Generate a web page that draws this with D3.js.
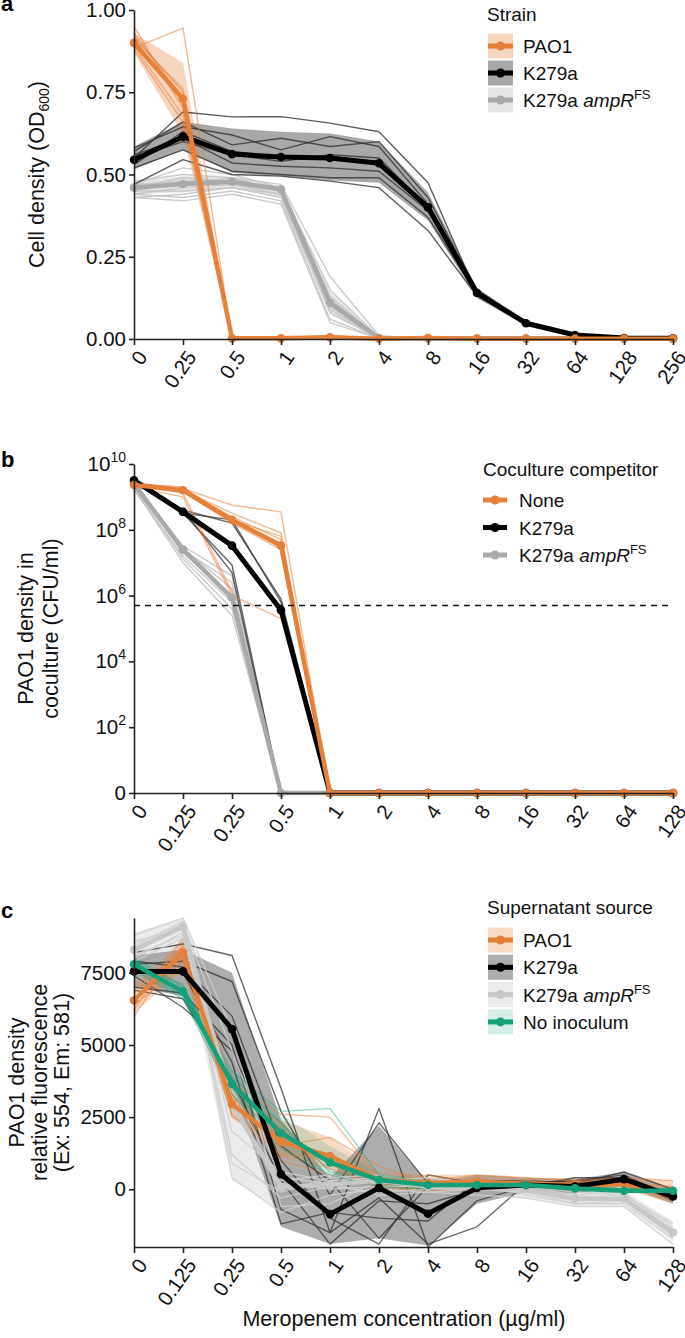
<!DOCTYPE html>
<html><head><meta charset="utf-8">
<script src="https://cdn.jsdelivr.net/npm/d3@7"></script>
<style>body{margin:0;background:#fff}svg{display:block}</style>
</head><body><svg id="chart" width="685" height="1338"></svg>
<script>
// ---------------- DATA ----------------
const concA  = ["0","0.25","0.5","1","2","4","8","16","32","64","128","256"];
const concBC = ["0","0.125","0.25","0.5","1","2","4","8","16","32","64","128"];
const ticksA = [0, 0.25, 0.5, 0.75, 1];
const tickLabelsA = ["0.00","0.25","0.50","0.75","1.00"];
const ticksB = [1, 1e2, 1e4, 1e6, 1e8, 1e10];
const tickExpB = [null, "2", "4", "6", "8", "10"];
const ticksC = [0, 2500, 5000, 7500];
const thresholdB = 5e5;

// Panel a: OD600
const pao1MeanA = [0.90,0.73,0.002,0.002,0.005,0.001,0.003,0.001,0.001,0.001,0.001,0.001];
const pao1LoA   = [0.87,0.62,0,0,0,0,0,0,0,0,0,0];
const pao1HiA   = [0.93,0.84,0.004,0.004,0.010,0.003,0.005,0.002,0.002,0.002,0.002,0.002];
const pao1RepsA = [
  [0.95,0.70,0,0,0.004,0,0.002,0,0,0,0,0],
  [0.885,0.945,0.004,0.002,0.006,0,0.003,0,0,0,0,0],
  [0.92,0.75,0,0.003,0.010,0.002,0.004,0,0,0,0,0],
  [0.90,0.72,0.002,0,0.005,0,0.002,0,0,0,0,0],
  [0.89,0.68,0,0.002,0.004,0.001,0.003,0,0,0,0,0],
  [0.91,0.76,0.003,0.001,0.008,0.002,0.004,0,0,0,0,0],
  [0.93,0.73,0,0.002,0.003,0,0.002,0,0,0,0,0],
  [0.88,0.66,0.001,0.001,0.002,0,0.001,0,0,0,0,0]
];
const k279MeanA = [0.545,0.615,0.562,0.553,0.550,0.534,0.40,0.14,0.048,0.012,0.003,0.002];
const k279LoA   = [0.515,0.575,0.505,0.495,0.482,0.475,0.36,0.125,0.040,0.006,0.001,0.001];
const k279HiA   = [0.585,0.66,0.64,0.63,0.625,0.60,0.445,0.155,0.056,0.018,0.005,0.003];
const k279RepsA = [
  [0.55,0.69,0.675,0.676,0.656,0.63,0.475,0.135,0.045,0.010,0.003,0.002],
  [0.57,0.66,0.59,0.61,0.585,0.60,0.43,0.145,0.050,0.015,0.004,0.002],
  [0.58,0.645,0.62,0.575,0.615,0.585,0.41,0.15,0.050,0.012,0.003,0.002],
  [0.53,0.63,0.57,0.555,0.55,0.54,0.40,0.14,0.048,0.013,0.003,0.002],
  [0.56,0.61,0.535,0.525,0.52,0.51,0.39,0.14,0.048,0.012,0.003,0.002],
  [0.52,0.575,0.51,0.50,0.49,0.49,0.37,0.135,0.045,0.010,0.003,0.002],
  [0.47,0.545,0.50,0.495,0.48,0.46,0.33,0.13,0.045,0.010,0.002,0.002],
  [0.55,0.60,0.56,0.54,0.56,0.55,0.40,0.14,0.048,0.012,0.003,0.002]
];
const amprMeanA = [0.46,0.471,0.478,0.455,0.11,0.003,0.002,0.002,0.002,0.002,0.002,0.002];
const amprLoA   = [0.44,0.445,0.46,0.43,0.075,0,0,0,0,0,0,0];
const amprHiA   = [0.48,0.495,0.49,0.465,0.145,0.006,0.004,0.004,0.004,0.004,0.004,0.004];
const amprRepsA = [
  [0.48,0.50,0.49,0.47,0.19,0.010,0.002,0.002,0.002,0.002,0.002,0.002],
  [0.47,0.52,0.50,0.46,0.15,0.005,0.002,0.002,0.002,0.002,0.002,0.002],
  [0.46,0.49,0.48,0.46,0.13,0.004,0.002,0.002,0.002,0.002,0.002,0.002],
  [0.45,0.48,0.48,0.45,0.12,0.003,0.002,0.002,0.002,0.002,0.002,0.002],
  [0.47,0.47,0.47,0.45,0.11,0.003,0.002,0.002,0.002,0.002,0.002,0.002],
  [0.44,0.46,0.47,0.44,0.10,0.002,0.002,0.002,0.002,0.002,0.002,0.002],
  [0.45,0.45,0.46,0.44,0.09,0.002,0.002,0.002,0.002,0.002,0.002,0.002],
  [0.43,0.44,0.46,0.43,0.08,0.002,0.002,0.002,0.002,0.002,0.002,0.002],
  [0.44,0.43,0.45,0.42,0.06,0.002,0.002,0.002,0.002,0.002,0.002,0.002],
  [0.43,0.42,0.44,0.41,0.05,0.002,0.002,0.002,0.002,0.002,0.002,0.002],
  [0.46,0.47,0.49,0.45,0.10,0.003,0.002,0.002,0.002,0.002,0.002,0.002],
  [0.47,0.48,0.48,0.46,0.12,0.004,0.002,0.002,0.002,0.002,0.002,0.002]
];

// Panel b: PAO1 CFU/ml in coculture (0 = below detection)
const noneMeanB = [2.3e9,1.6e9,2.0e8,3.3e7,0,0,0,0,0,0,0,0];
const noneRepsB = [
  [2.5e9,1.8e9,5.6e8,3.5e8,0,0,0,0,0,0,0,0],
  [2.2e9,1.6e9,2.5e8,5.0e7,0,0,0,0,0,0,0,0],
  [2.5e9,2.0e9,2.0e8,6.3e7,0,0,0,0,0,0,0,0],
  [2.0e9,1.4e9,1.6e8,2.5e7,0,0,0,0,0,0,0,0],
  [2.8e9,1.6e9,2.2e8,4.0e7,0,0,0,0,0,0,0,0],
  [2.0e9,1.0e9,1.0e6,2.0e5,0,0,0,0,0,0,0,0],
  [2.5e9,1.3e9,1.3e6,0,0,0,0,0,0,0,0,0],
  [2.2e9,1.6e9,3.2e8,8.0e7,0,0,0,0,0,0,0,0]
];
const k279MeanB = [3.2e9,3.5e8,3.3e7,3.6e5,0,0,0,0,0,0,0,0];
const k279RepsB = [
  [3.2e9,4.0e8,1.6e8,8.0e5,0,0,0,0,0,0,0,0],
  [3.0e9,3.2e8,2.0e8,6.3e5,0,0,0,0,0,0,0,0],
  [2.8e9,3.2e8,8.5e6,0,0,0,0,0,0,0,0,0],
  [3.2e9,4.0e8,5.0e6,0,0,0,0,0,0,0,0,0]
];
const amprMeanB = [2.5e9,2.5e7,8.5e5,0,0,0,0,0,0,0,0,0];
const amprRepsB = [
  [2.5e9,3.2e7,4.0e6,0,0,0,0,0,0,0,0,0],
  [2.0e9,2.5e7,2.5e6,0,0,0,0,0,0,0,0,0],
  [2.2e9,2.0e7,1.0e6,0,0,0,0,0,0,0,0,0],
  [1.6e9,1.6e7,6.3e5,0,0,0,0,0,0,0,0,0],
  [2.0e9,1.3e7,4.0e5,0,0,0,0,0,0,0,0,0],
  [2.5e9,2.5e7,8.0e5,0,0,0,0,0,0,0,0,0],
  [1.8e9,1.0e7,2.5e5,0,0,0,0,0,0,0,0,0],
  [2.2e9,2.8e7,1.6e6,0,0,0,0,0,0,0,0,0]
];

// Panel c: relative fluorescence
const pao1MeanC = [6550,8200,2950,1650,1150,320,220,250,200,150,200,-150];
const pao1LoC   = [6100,7600,2500,1100,700,0,-100,-50,0,-100,0,-500];
const pao1HiC   = [7000,8700,3500,2400,1800,600,500,500,400,400,400,300];
const pao1RepsC = [
  [6200,8700,3700,2600,2500,400,300,500,400,300,400,300],
  [6800,8400,3200,1500,1800,800,200,300,200,200,100,-200],
  [7100,8000,2900,1900,700,100,500,200,300,100,300,-300],
  [6400,7700,2600,1200,1100,200,-100,100,100,0,200,-400],
  [6000,8500,2500,1700,900,-100,100,400,0,300,200,100],
  [6600,7900,3300,1000,500,300,200,0,200,100,0,-200]
];
const k279MeanC = [7550,7550,5550,520,-860,50,-850,50,150,100,350,-250];
const k279LoC   = [7000,6700,3600,-1300,-1900,-1700,-1950,-500,-100,-150,100,-500];
const k279HiC   = [8100,8300,7500,2400,400,2200,200,500,400,350,600,0];
const k279RepsC = [
  [8200,8500,8100,3500,-1500,2800,-2000,-400,100,400,400,-300],
  [7800,7900,7200,2700,-200,2300,200,100,200,300,500,-300],
  [7400,6300,4800,1000,-1000,-1900,500,200,100,0,300,-200],
  [7000,6800,5000,-700,-1500,-300,-1900,-1300,200,100,400,-400],
  [7600,7500,4400,-1200,-800,-1000,-1100,300,300,200,600,0],
  [6900,6600,3800,300,-1900,-400,-500,0,100,100,200,-300],
  [7900,7700,6000,1500,300,-1700,100,200,200,300,400,-200]
];
const amprMeanC = [8300,9100,2950,70,170,300,100,50,0,-330,-330,-1500];
const amprLoC   = [7800,8300,300,-700,-300,-200,-200,-200,-300,-600,-600,-1800];
const amprHiC   = [8900,9400,5600,800,500,500,400,300,200,0,-50,-1100];
const amprRepsC = [
  [8800,9400,5500,-600,-500,300,400,200,-200,-500,-500,-1700],
  [8500,9200,4800,300,500,200,200,100,0,-200,-400,-1600],
  [8200,9100,1200,-300,100,-100,0,0,-100,-400,-300,-1400],
  [8000,8900,2000,600,300,400,300,200,100,-100,-200,-1200],
  [8400,9300,400,-800,-200,0,-100,-200,-300,-600,-600,-1900],
  [7900,8700,3500,200,0,100,100,0,0,-300,-200,-1300],
  [8600,9000,900,-100,400,500,200,100,100,-200,-100,-1500],
  [8100,8800,2800,400,200,-200,-100,0,-100,-500,-400,-1400]
];
const noInocMeanC = [7800,6850,3650,1950,930,320,150,150,150,30,-50,-50];
const noInocLoC   = [7500,6600,3200,1500,500,50,0,0,0,-100,-150,-150];
const noInocHiC   = [8100,7100,4100,2600,1500,550,300,300,300,150,50,50];
const noInocRepsC = [
  [8000,7000,4100,2700,2800,500,200,300,200,100,0,0],
  [7700,6700,3500,1600,1200,200,100,100,200,0,-100,-100],
  [7900,6900,3900,2300,600,400,300,200,100,50,0,0],
  [7600,6600,3300,1400,500,100,0,100,200,0,-100,-100],
  [7800,7100,3600,2000,1000,300,100,0,100,0,-50,-50]
];

// labels
const lblPAO1 = [{t:"PAO1"}];
const lblK279 = [{t:"K279a"}];
const lblAmpR = [{t:"K279a "},{t:"ampR",i:true},{t:"FS",size:13,dy:-8}];
const lblNone = [{t:"None"}];
const lblNoInoc = [{t:"No inoculum"}];

// ---------------- STYLE ----------------
const FONT = "'Liberation Sans', Arial, Helvetica, sans-serif";
const ORANGE = "#E4803A", BLACK = "#000000", GRAY = "#A9A9A9", GREEN = "#16A07A";
const X0 = 134, X1 = 673;
const svg = d3.select("#chart").attr("font-family", FONT);

function addParts(textSel, parts) {
  parts.forEach(p => {
    const t = textSel.append("tspan").text(p.t);
    if (p.i) t.attr("font-style", "italic");
    if (p.size) t.attr("font-size", p.size);
    if (p.dy) t.attr("dy", p.dy);
  });
}

function drawPanel(opt) {
  const g = svg.append("g");
  const x = d3.scalePoint().domain(opt.cats).range([X0, X1]);
  const y = opt.y;
  const yv = opt.log ? (v => y(Math.max(v, 1))) : (v => y(v));
  const line = d3.line().x((d, i) => x(opt.cats[i])).y(d => yv(d));
  const area = d3.area().x((d, i) => x(opt.cats[i])).y0(d => yv(d[0])).y1(d => yv(d[1]));
  const gb = g.append("g"), gr = g.append("g"), gm = g.append("g");
  opt.groups.forEach(s => {
    if (s.lo) {
      gb.append("path").datum(s.lo.map((v, i) => [v, s.hi[i]]))
        .attr("d", area).attr("fill", s.band).attr("fill-opacity", s.bandOp).attr("stroke", "none");
    }
    s.reps.forEach(r => {
      gr.append("path").datum(r).attr("d", line).attr("fill", "none")
        .attr("stroke", s.rep).attr("stroke-opacity", s.repOp).attr("stroke-width", s.repW || 1.4)
        .attr("stroke-linejoin", "round");
    });
  });
  (opt.meanOrder || opt.groups).forEach(s => {
    gm.append("path").datum(s.mean).attr("d", line).attr("fill", "none")
      .attr("stroke", s.color).attr("stroke-width", s.meanW || 4.5).attr("stroke-linejoin", "round");
    gm.selectAll(null).data(s.mean).enter().append("circle")
      .attr("cx", (d, i) => x(opt.cats[i])).attr("cy", d => yv(d)).attr("r", 4.3).attr("fill", s.color);
  });
  if (opt.extra) opt.extra(g, x, y);

  // axes
  const ax = g.append("g").attr("transform", `translate(${X0},0)`)
    .call(d3.axisLeft(y).tickValues(opt.ticks).tickSize(5).tickSizeOuter(0).tickPadding(3));
  ax.selectAll(".tick text").attr("font-size", 20.5).attr("font-family", FONT).attr("fill", "#111");
  if (opt.tickText) opt.tickText(ax);
  const bx = g.append("g").attr("transform", `translate(0,${opt.axisY})`)
    .call(d3.axisBottom(x).tickSize(6).tickSizeOuter(0));
  bx.selectAll(".tick text").attr("font-size", 20.5).attr("font-family", FONT).attr("fill", "#111")
    .attr("x", 0).attr("y", 0).attr("dy", "0.35em").attr("text-anchor", "end")
    .attr("transform", "translate(8,14) rotate(-55)");
  [ax, bx].forEach(a => {
    a.select(".domain").attr("stroke", "#222").attr("stroke-width", 1.6);
    a.selectAll(".tick line").attr("stroke", "#222").attr("stroke-width", 1.6);
  });
  // y-axis title
  const yMid = (y.range()[0] + y.range()[1]) / 2;
  opt.yTitle.forEach((ln, k) => {
    const t = g.append("text").attr("transform", `translate(${opt.yTitleX[k]},${yMid}) rotate(-90)`)
      .attr("text-anchor", "middle").attr("font-size", 21.5).attr("fill", "#111");
    addParts(t, ln);
  });
  // panel letter
  g.append("text").attr("x", 1).attr("y", opt.letterY).attr("font-weight", "bold")
    .attr("font-size", 22).attr("fill", "#000").text(opt.letter);
  // legend
  const L = opt.legend;
  g.append("text").attr("x", L.x).attr("y", L.titleY).attr("font-size", 19).attr("fill", "#111").text(L.title);
  L.items.forEach((it, k) => {
    const cy = L.y0 + k * L.dy;
    if (L.rects) {
      g.append("rect").attr("x", L.x + 1).attr("y", cy - 12.5).attr("width", 25).attr("height", 25)
        .attr("fill", it.s.band).attr("fill-opacity", it.s.bandOp);
    }
    const kx0 = L.rects ? L.x + 1 : L.x, kx1 = L.rects ? L.x + 26 : L.x + 24;
    g.append("line").attr("x1", kx0).attr("x2", kx1).attr("y1", cy).attr("y2", cy)
      .attr("stroke", it.s.color).attr("stroke-width", 5);
    g.append("circle").attr("cx", (kx0 + kx1) / 2).attr("cy", cy).attr("r", 4.5).attr("fill", it.s.color);
    const t = g.append("text").attr("x", L.textX).attr("y", cy + 7).attr("font-size", 19).attr("fill", "#111");
    addParts(t, it.label);
  });
}

// ---------------- PANEL A ----------------
const sPAO1a = {color: ORANGE, band: ORANGE, bandOp: 0.33, rep: ORANGE, repOp: 0.55, mean: pao1MeanA, lo: pao1LoA, hi: pao1HiA, reps: pao1RepsA, meanW: 4.5};
const sK279a = {color: BLACK, band: "#4a4a4a", bandOp: 0.48, rep: "#333", repOp: 0.8, mean: k279MeanA, lo: k279LoA, hi: k279HiA, reps: k279RepsA, meanW: 5};
const sAmpRa = {color: GRAY, band: "#8a8a8a", bandOp: 0.22, rep: "#c4c4c4", repOp: 0.9, mean: amprMeanA, lo: amprLoA, hi: amprHiA, reps: amprRepsA, meanW: 4.5};
drawPanel({
  cats: concA, y: d3.scaleLinear().domain([0, 1]).range([339, 10]), axisY: 339,
  ticks: ticksA,
  tickText: ax => ax.selectAll(".tick text").text((d, i) => tickLabelsA[i]),
  groups: [sAmpRa, sK279a, sPAO1a],
  yTitle: [[{t:"Cell density (OD"},{t:"600",size:14,dy:5},{t:")",dy:-5}]], yTitleX: [44],
  letter: "a", letterY: 11,
  legend: {x: 487, titleY: 21, title: "Strain", rects: true, y0: 46, dy: 27, textX: 523,
    items: [{s: sPAO1a, label: lblPAO1}, {s: sK279a, label: lblK279}, {s: sAmpRa, label: lblAmpR}]}
});

// ---------------- PANEL B ----------------
const sNoneB = {color: ORANGE, rep: ORANGE, repOp: 0.55, mean: noneMeanB, reps: noneRepsB, meanW: 4.5};
const sK279B = {color: BLACK, rep: "#333", repOp: 0.75, mean: k279MeanB, reps: k279RepsB, meanW: 5};
const sAmpRB = {color: GRAY, rep: "#c4c4c4", repOp: 0.9, mean: amprMeanB, reps: amprRepsB, meanW: 4.5};
drawPanel({
  cats: concBC, y: d3.scaleLog().domain([1, 1e10]).range([793, 464]), log: true, axisY: 793,
  ticks: ticksB,
  tickText: ax => {
    ax.selectAll(".tick text").each(function(d, i) {
      const t = d3.select(this).text(null);
      if (tickExpB[i] === null) { t.append("tspan").text("0"); }
      else {
        t.append("tspan").text("10");
        t.append("tspan").attr("font-size", 14).attr("dy", -9).text(tickExpB[i]);
      }
    });
  },
  groups: [sAmpRB, sK279B, sNoneB],
  extra: (g, x, y) => {
    g.append("line").attr("x1", X0).attr("x2", X1).attr("y1", y(thresholdB)).attr("y2", y(thresholdB))
      .attr("stroke", "#111").attr("stroke-width", 1.6).attr("stroke-dasharray", "6,5");
  },
  yTitle: [[{t:"PAO1 density in"}], [{t:"coculture (CFU/ml)"}]], yTitleX: [33, 58],
  letter: "b", letterY: 467,
  legend: {x: 483, titleY: 476, title: "Coculture competitor", rects: false, y0: 500, dy: 27.5, textX: 519,
    items: [{s: sNoneB, label: lblNone}, {s: sK279B, label: lblK279}, {s: sAmpRB, label: lblAmpR}]}
});

// ---------------- PANEL C ----------------
const sPAO1c = {color: ORANGE, band: ORANGE, bandOp: 0.3, rep: ORANGE, repOp: 0.5, mean: pao1MeanC, lo: pao1LoC, hi: pao1HiC, reps: pao1RepsC, meanW: 4.5};
const sK279c = {color: BLACK, band: "#4a4a4a", bandOp: 0.45, rep: "#333", repOp: 0.75, mean: k279MeanC, lo: k279LoC, hi: k279HiC, reps: k279RepsC, meanW: 5};
const sAmpRc = {color: "#C8C8C8", band: "#9a9a9a", bandOp: 0.2, rep: "#cfcfcf", repOp: 0.85, mean: amprMeanC, lo: amprLoC, hi: amprHiC, reps: amprRepsC, meanW: 4.5};
const sNoInc = {color: GREEN, band: GREEN, bandOp: 0.18, rep: GREEN, repOp: 0.4, mean: noInocMeanC, lo: noInocLoC, hi: noInocHiC, reps: noInocRepsC, meanW: 4.5};
drawPanel({
  cats: concBC, y: d3.scaleLinear().domain([-2000, 9400]).range([1247, 918]), axisY: 1247,
  ticks: ticksC,
  tickText: ax => ax.selectAll(".tick text").text(d => String(d)),
  groups: [sK279c, sPAO1c, sAmpRc, sNoInc],
  meanOrder: [sAmpRc, sPAO1c, sK279c, sNoInc],
  yTitle: [[{t:"PAO1 density"}], [{t:"relative fluorescence"}], [{t:"(Ex: 554, Em: 581)"}]], yTitleX: [24, 47, 69],
  letter: "c", letterY: 918,
  legend: {x: 487, titleY: 914, title: "Supernatant source", rects: true, y0: 940, dy: 27.3, textX: 523,
    items: [{s: sPAO1c, label: lblPAO1}, {s: sK279c, label: lblK279}, {s: sAmpRc, label: lblAmpR}, {s: sNoInc, label: lblNoInoc}]}
});

svg.append("text").attr("x", 404).attr("y", 1326).attr("text-anchor", "middle")
  .attr("font-size", 21.5).attr("fill", "#111").text("Meropenem concentration (\u00b5g/ml)");
</script></body></html>
